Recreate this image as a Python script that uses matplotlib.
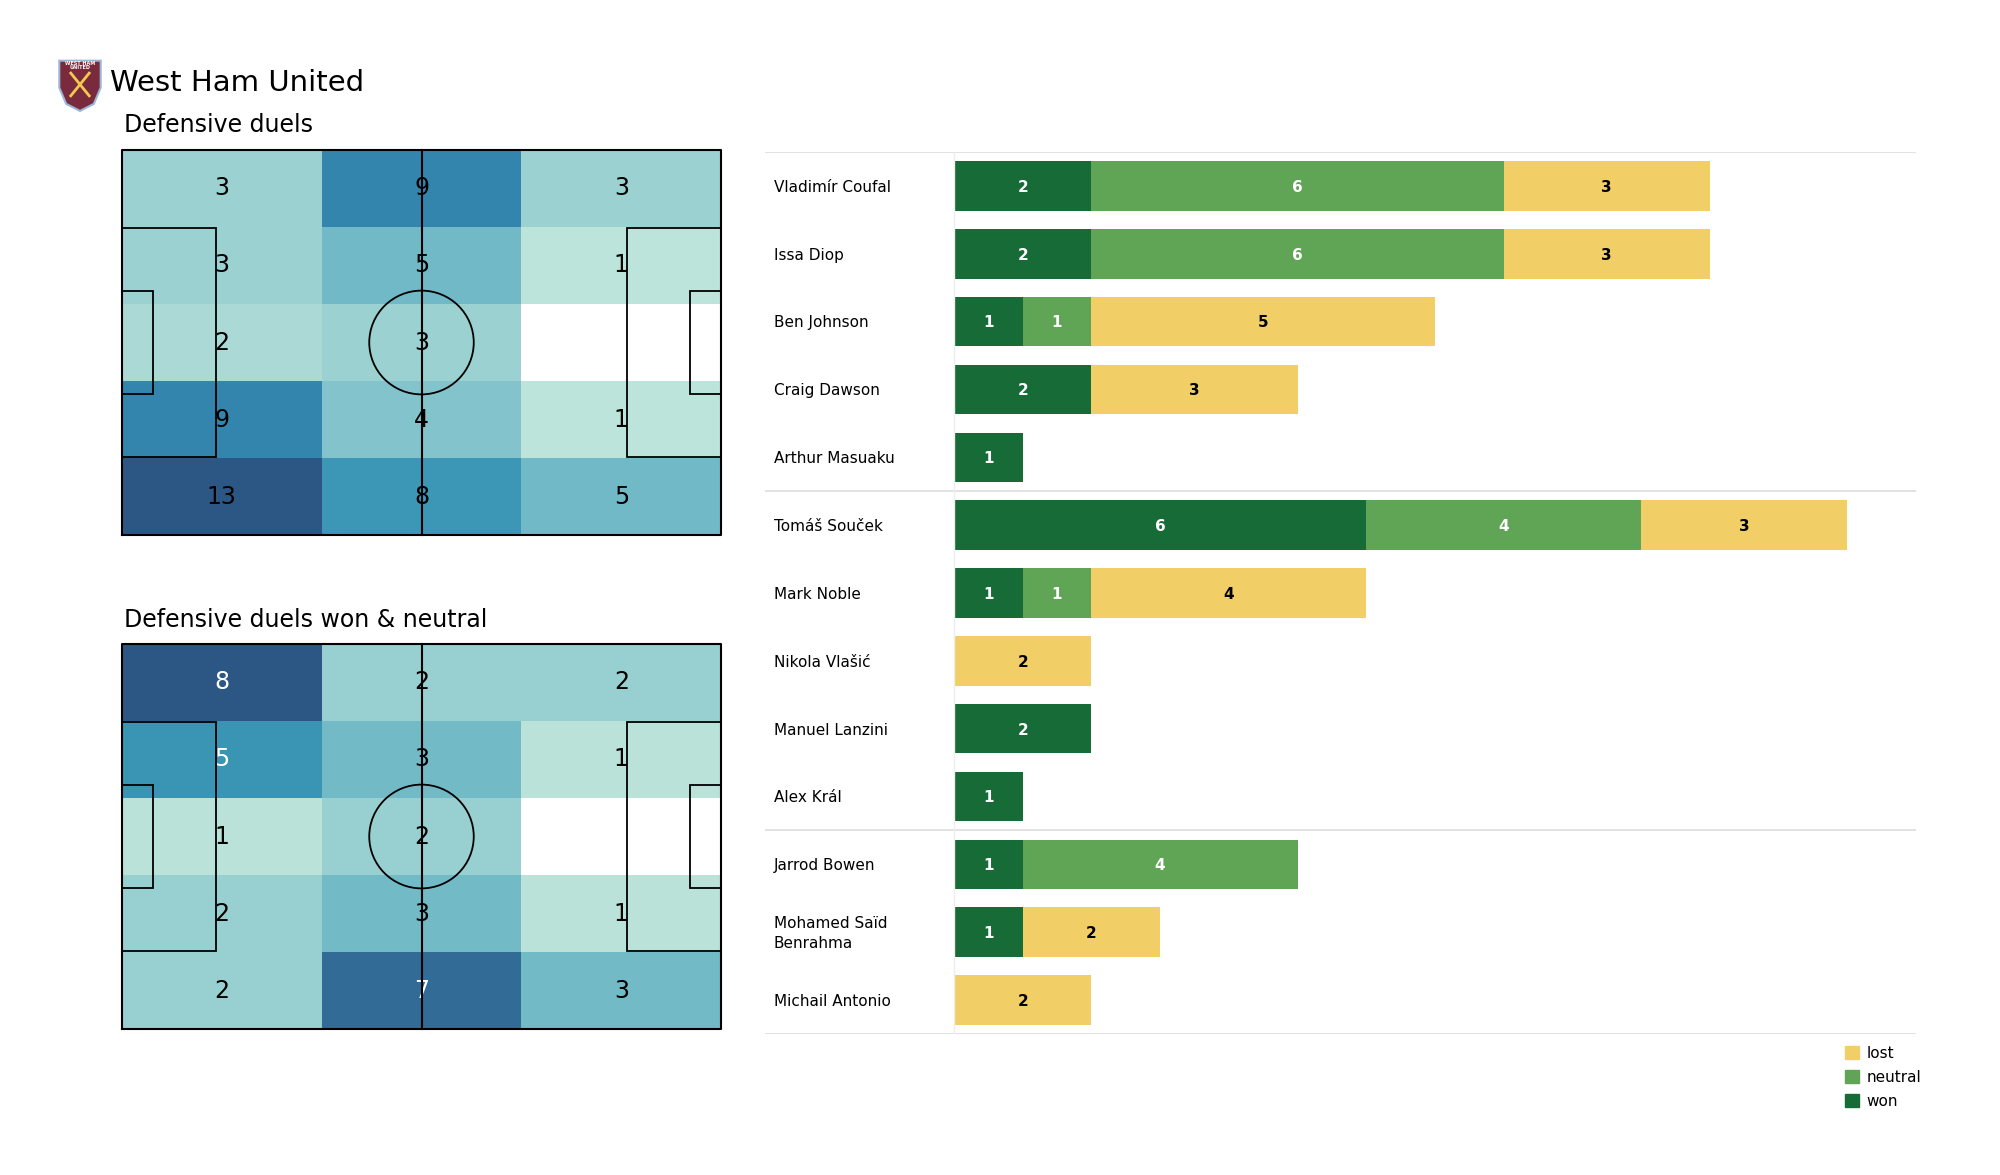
import numpy as np
import matplotlib
matplotlib.use("Agg")
import matplotlib.pyplot as plt
from matplotlib.colors import LinearSegmentedColormap
from matplotlib.patches import Rectangle, Circle, Polygon, Patch

team = "West Ham United"
pitch_titles = ["Defensive duels", "Defensive duels won & neutral"]

# zone counts, rows top -> bottom, columns left -> right
duels_all = np.array([[3, 9, 3],
                      [3, 5, 1],
                      [2, 3, 0],
                      [9, 4, 1],
                      [13, 8, 5]])
duels_won_neutral = np.array([[8, 2, 2],
                              [5, 3, 1],
                              [1, 2, 0],
                              [2, 3, 1],
                              [2, 7, 3]])
# which zone labels are printed in white
white_all = np.zeros((5, 3), bool)
white_wn = np.array([[1, 0, 0], [1, 0, 0], [0, 0, 0], [0, 0, 0], [0, 1, 0]], bool)

players = ["Vladimír Coufal", "Issa Diop", "Ben Johnson", "Craig Dawson",
           "Arthur Masuaku", "Tomáš Souček", "Mark Noble", "Nikola Vlašić",
           "Manuel Lanzini", "Alex Král", "Jarrod Bowen",
           "Mohamed Saïd\nBenrahma", "Michail Antonio"]
won = [2, 2, 1, 2, 1, 6, 1, 0, 2, 1, 1, 1, 0]
neutral = [6, 6, 1, 0, 0, 4, 1, 0, 0, 0, 4, 0, 0]
lost = [3, 3, 5, 3, 0, 3, 4, 2, 0, 0, 0, 2, 2]
group_breaks = [5, 10]

c_won, c_neu, c_lost = "#166b37", "#5fa555", "#f2cf66"

cmap = LinearSegmentedColormap.from_list("duels", [
    (0.0, "#ffffff"), (0.07, "#bce4da"), (0.125, "#bae2d8"),
    (0.154, "#aadad6"), (0.25, "#98cfd0"), (0.31, "#80c2cc"),
    (0.38, "#72bac7"), (0.625, "#3a95b4"), (0.69, "#3486af"),
    (0.875, "#326c96"), (1.0, "#2c5784")])

fig = plt.figure(figsize=(20, 11.75), dpi=100)


def fig_axes(x0, y0, x1, y1):
    # pixel box (top-left origin) -> figure axes
    return fig.add_axes([x0 / 2000, 1 - y1 / 1175, (x1 - x0) / 2000, (y1 - y0) / 1175])


def draw_pitch(ax, counts, white_mask):
    xe = np.linspace(0, 105, 4)
    ye = np.linspace(0, 68, 6)
    ax.pcolormesh(xe, ye, np.flipud(counts), cmap=cmap, vmin=0, vmax=counts.max())
    for r in range(counts.shape[0]):
        for c in range(counts.shape[1]):
            if counts[r, c] == 0:
                continue
            x = (xe[c] + xe[c + 1]) / 2
            y = (ye[::-1][r] + ye[::-1][r + 1]) / 2
            ax.text(x, y, str(counts[r, c]), ha="center", va="center", fontsize=17,
                    color="white" if white_mask[r, c] else "black")
    kw = dict(color="black", lw=1.5, zorder=3)
    ax.plot([0, 105, 105, 0, 0], [0, 0, 68, 68, 0], **kw)
    ax.plot([52.5, 52.5], [0, 68], **kw)
    ax.add_patch(Circle((52.5, 34), 9.15, fill=False, ec="black", lw=1.3, zorder=3))
    for x0, w in [(0, 16.5), (88.5, 16.5), (0, 5.5), (99.5, 5.5)]:
        h = 40.32 if w == 16.5 else 18.32
        ax.add_patch(Rectangle((x0, 34 - h / 2), w, h, fill=False, ec="black", lw=1.3, zorder=3))
    ax.set_xlim(-0.3, 105.3)
    ax.set_ylim(-0.3, 68.3)
    ax.axis("off")


ax1 = fig_axes(120, 148, 723, 537)
draw_pitch(ax1, duels_all, white_all)
ax2 = fig_axes(120, 642, 723, 1031)
draw_pitch(ax2, duels_won_neutral, white_wn)

fig.text(124 / 2000, 1 - 125 / 1175, pitch_titles[0], fontsize=17, va="center")
fig.text(124 / 2000, 1 - 620 / 1175, pitch_titles[1], fontsize=17, va="center")
fig.text(110 / 2000, 1 - 83 / 1175, team, fontsize=21, va="center")

# crest
axl = fig_axes(57, 58, 103, 112)
shield = [(0.05, 0.95), (0.95, 0.95), (0.95, 0.45), (0.8, 0.15), (0.5, 0.02),
          (0.2, 0.15), (0.05, 0.45)]
axl.add_patch(Polygon(shield, closed=True, fc="#7a2a3d", ec="#9bb6d6", lw=1.5))
axl.plot([0.3, 0.7], [0.3, 0.72], color="#f3c94f", lw=2)
axl.plot([0.7, 0.3], [0.3, 0.72], color="#f3c94f", lw=2)
axl.text(0.5, 0.86, "WEST HAM\nUNITED", ha="center", va="center", fontsize=3.5,
         color="white", fontweight="bold", linespacing=0.9)
axl.set_xlim(0, 1)
axl.set_ylim(0, 1)
axl.axis("off")

# bars
axb = fig_axes(765, 152, 1916, 1034)
y = np.arange(len(players))
won_a, neu_a, lost_a = np.array(won), np.array(neutral), np.array(lost)
for vals, left, col, tcol in [(won_a, 0, c_won, "white"),
                              (neu_a, won_a, c_neu, "white"),
                              (lost_a, won_a + neu_a, c_lost, "black")]:
    bars = axb.barh(y, vals, left=left, height=0.73, color=col)
    for b, v in zip(bars, vals):
        if v > 0:
            axb.text(b.get_x() + b.get_width() / 2, b.get_y() + b.get_height() / 2 + 0.02, str(v),
                     ha="center", va="center", color=tcol, fontsize=11, fontweight="bold")
for yi, name in zip(y, players):
    axb.text(-2.62, yi + 0.02, name, ha="left", va="center", fontsize=11, linespacing=1.45)
for yl in [-0.5] + [g - 0.5 for g in group_breaks] + [len(players) - 0.5]:
    axb.axhline(yl, color="#dddddd", lw=1.2)
axb.axvline(0, color="#eeeeee", lw=1)
axb.set_xlim(-2.75, 14)
axb.set_ylim(len(players) - 0.5, -0.5)
axb.axis("off")

handles = [Patch(color=c_lost, label="lost"), Patch(color=c_neu, label="neutral"),
           Patch(color=c_won, label="won")]
fig.legend(handles=handles, loc="upper left", bbox_to_anchor=(1831 / 2000, 1 - 1032 / 1175),
           frameon=False, fontsize=11, handlelength=0.9, handleheight=0.9,
           handletextpad=0.5, labelspacing=0.6)

fig.savefig("out.png", dpi=100)
